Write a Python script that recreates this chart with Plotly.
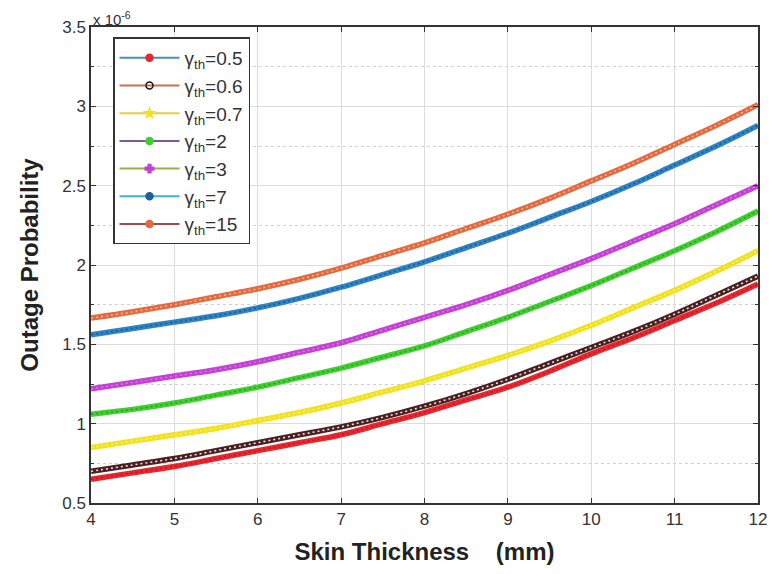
import plotly.graph_objects as go

# Skin thickness (mm), read at half-millimetre steps
skin_mm = [4, 4.5, 5, 5.5, 6, 6.5, 7, 7.5, 8, 8.5, 9, 9.5, 10, 10.5, 11, 11.5, 12]

# Outage probability (x 1e-6) for each threshold
op_05 = [0.65, 0.69, 0.73, 0.78, 0.83, 0.88, 0.93, 1.00, 1.07, 1.15, 1.23, 1.33, 1.44, 1.54, 1.65, 1.76, 1.88]
op_06 = [0.70, 0.74, 0.78, 0.83, 0.88, 0.93, 0.98, 1.04, 1.11, 1.19, 1.28, 1.38, 1.48, 1.58, 1.69, 1.81, 1.93]
op_07 = [0.85, 0.89, 0.93, 0.97, 1.02, 1.07, 1.13, 1.20, 1.27, 1.35, 1.43, 1.52, 1.62, 1.73, 1.84, 1.96, 2.09]
op_2 = [1.06, 1.09, 1.13, 1.18, 1.23, 1.29, 1.35, 1.42, 1.49, 1.58, 1.67, 1.77, 1.87, 1.98, 2.09, 2.21, 2.34]
op_3 = [1.22, 1.26, 1.30, 1.34, 1.39, 1.45, 1.51, 1.59, 1.67, 1.75, 1.84, 1.94, 2.04, 2.15, 2.26, 2.38, 2.50]
op_7 = [1.56, 1.60, 1.64, 1.68, 1.73, 1.79, 1.86, 1.94, 2.02, 2.11, 2.20, 2.30, 2.40, 2.51, 2.63, 2.75, 2.88]
op_15 = [1.665, 1.705, 1.75, 1.80, 1.85, 1.91, 1.98, 2.06, 2.14, 2.23, 2.32, 2.42, 2.53, 2.64, 2.76, 2.88, 3.01]

labels = ["0.5", "0.6", "0.7", "2", "3", "7", "15"]
series = [op_05, op_06, op_07, op_2, op_3, op_7, op_15]

x_ticks = [4, 5, 6, 7, 8, 9, 10, 11, 12]
y_ticks = [0.5, 1, 1.5, 2, 2.5, 3, 3.5]
y_ticktext = ["0.5", "1", "1.5", "2", "2.5", "3", "3.5"]

# styles
plot_colors = ["#e8262e", "#4a2020", "#f2e21e", "#3fd02f", "#c43fd4", "#2e83c2", "#e4693f"]
dot_colors = ["#c81820", "#f0e0e0", "#f8f070", "#2aa020", "#e070f0", "#1a5a9a", "#f8b090"]
legend_line_colors = ["#4a90b8", "#c8734f", "#e8cf3a", "#7c5a9c", "#93b24a", "#3fb0dc", "#a24a52"]
legend_marker_colors = ["#e8262e", "#2a1010", "#f2e21e", "#3fd02f", "#c43fd4", "#1f5f9a", "#e4693f"]
legend_marker_symbols = ["circle", "circle-open", "star", "circle", "cross", "circle", "circle"]

fig = go.Figure()

for vals, pc, dc in zip(series, plot_colors, dot_colors):
    fig.add_trace(go.Scatter(
        x=skin_mm, y=vals, mode="lines", showlegend=False, hoverinfo="skip",
        line=dict(color=pc, width=5.5, shape="spline")))
    fig.add_trace(go.Scatter(
        x=skin_mm, y=vals, mode="lines", showlegend=False, hoverinfo="skip",
        line=dict(color=dc, width=1.6, shape="spline", dash="2px,3px")))

for lab, lc, mc, ms in zip(labels, legend_line_colors, legend_marker_colors, legend_marker_symbols):
    fig.add_trace(go.Scatter(
        x=[None], y=[None], mode="lines+markers",
        name="γ<sub>th</sub>=" + lab,
        line=dict(color=lc, width=2),
        marker=dict(color=mc, size=7, symbol=ms, line=dict(color=mc, width=1.5))))

# the page adds an 8 px body margin on each side, so the figure is sized 760x558
fig.update_layout(
    width=760, height=558,
    margin=dict(l=83, r=10, t=19, b=63),
    paper_bgcolor="white", plot_bgcolor="white",
    font=dict(family="Liberation Sans, Arial, sans-serif", size=16, color="#333333"),
    legend=dict(
        x=0.033, y=0.978, xanchor="left", yanchor="top",
        bgcolor="white", bordercolor="#333333", borderwidth=1.5,
        font=dict(size=19, color="#333333"),
        itemwidth=60, tracegroupgap=0,
    ),
    xaxis=dict(
        range=[4, 12], tickvals=x_ticks, ticks="inside", ticklen=5,
        tickcolor="#333333", showline=True, linecolor="#333333", linewidth=1.5,
        mirror="ticks", showgrid=True, gridcolor="#dcdcdc", gridwidth=1,
        zeroline=False, tickfont=dict(size=17, color="#333333"), automargin=False,
        title=dict(text="<b>Skin Thickness    (mm)</b>", font=dict(size=24, color="#222222"), standoff=15),
    ),
    yaxis=dict(
        range=[0.5, 3.5], tickvals=y_ticks, ticktext=y_ticktext, ticks="inside", ticklen=5,
        tickcolor="#333333", showline=True, linecolor="#333333", linewidth=1.5,
        mirror="ticks", showgrid=True, gridcolor="#dcdcdc", gridwidth=1,
        zeroline=False, tickfont=dict(size=17, color="#333333"), automargin=False,
        minor=dict(dtick=0.25, showgrid=True, gridcolor="#d0d0d0", griddash="dot",
                   ticks="inside", ticklen=3, tickcolor="#333333"),
        title=dict(text="<b>Outage Probability</b>", font=dict(size=24, color="#222222"), standoff=17),
    ),
    annotations=[dict(
        x=0, y=1, xref="paper", yref="paper", xanchor="left", yanchor="bottom",
        text="x 10<sup>-6</sup>", showarrow=False, yshift=-3,
        font=dict(size=15, color="#333333"))],
)

fig.write_html("out.html")
